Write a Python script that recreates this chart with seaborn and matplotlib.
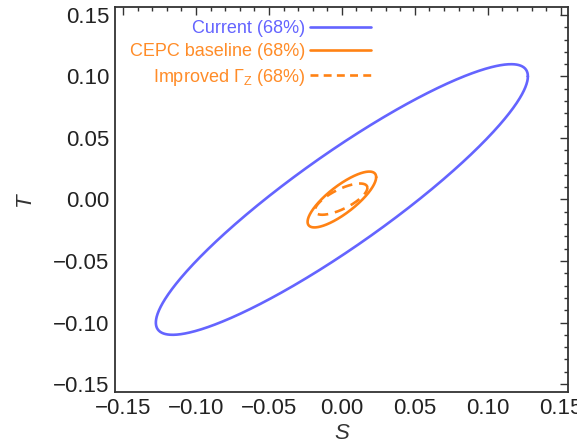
import numpy as np
import pandas as pd
import matplotlib
matplotlib.use("Agg")
import matplotlib.pyplot as plt
from matplotlib.ticker import MultipleLocator, FuncFormatter
import seaborn as sns

# ---- data: 68% CL ellipses in the (S, T) plane ----
labels = ["Current (68%)", "CEPC baseline (68%)", r"Improved $\Gamma_\mathrm{Z}$ (68%)"]
center_S = [0.0, 0.0, -0.0005]
center_T = [0.0, 0.0, 0.0003]
sigma_S = [0.1275, 0.0235, 0.0180]   # half-extent of ellipse along S
sigma_T = [0.1100, 0.0227, 0.0127]   # half-extent of ellipse along T
rho_ST = [0.91, 0.80, 0.72]          # correlation
colors = ["#6464ff", "#ff8214", "#ff8214"]
styles = ["-", "-", "--"]
text_colors = ["#6464ff", "#ff8c28", "#ff8c28"]

x_ticks = [-0.15, -0.10, -0.05, 0.00, 0.05, 0.10, 0.15]
y_ticks = [-0.15, -0.10, -0.05, 0.00, 0.05, 0.10, 0.15]

sns.set_style("white")
plt.rcParams["font.family"] = ["Liberation Sans", "DejaVu Sans"]
plt.rcParams["mathtext.fontset"] = "custom"
plt.rcParams["mathtext.rm"] = "Liberation Sans"
plt.rcParams["mathtext.it"] = "Liberation Sans:italic"

frames = []
t = np.linspace(0, 2 * np.pi, 721)
for i, lab in enumerate(labels):
    r = rho_ST[i]
    S = center_S[i] + sigma_S[i] * np.cos(t)
    T = center_T[i] + sigma_T[i] * (r * np.cos(t) + np.sqrt(1 - r * r) * np.sin(t))
    frames.append(pd.DataFrame({"S": S, "T": T, "set": lab, "order": np.arange(len(t))}))
df = pd.concat(frames, ignore_index=True)

fig = plt.figure(figsize=(5.77, 4.46), dpi=100)
ax = fig.add_axes([115 / 577, 1 - 392 / 446, (568 - 115) / 577, (392 - 7) / 446])

for i, lab in enumerate(labels):
    sub = df[df["set"] == lab]
    sns.lineplot(data=sub, x="S", y="T", sort=False, estimator=None, ax=ax,
                 color=colors[i], linewidth=1.9, linestyle=styles[i], label=lab,
                 dashes=False)
    if styles[i] == "--":
        ax.lines[-1].set_dashes([4.0, 2.6])


def fmt(v, pos):
    s = "%.2f" % v
    if s.startswith("-"):
        s = "\u2212" + s[1:]
    if s == "\u22120.00":
        s = "0.00"
    return s


ax.set_xlim(-0.1555, 0.155)
ax.set_ylim(-0.1565, 0.1565)
ax.set_xticks(x_ticks)
ax.set_yticks(y_ticks)
ax.xaxis.set_major_formatter(FuncFormatter(fmt))
ax.yaxis.set_major_formatter(FuncFormatter(fmt))
ax.xaxis.set_minor_locator(MultipleLocator(0.01))
ax.yaxis.set_minor_locator(MultipleLocator(0.01))
ax.tick_params(which="both", direction="in", top=True, right=True, colors="#333333",
               labelcolor="#222222", labelsize=16, width=1.0)
ax.tick_params(which="major", length=5.5, pad=4)
ax.tick_params(which="minor", length=3)
for sp in ax.spines.values():
    sp.set_color("#333333")
    sp.set_linewidth(1.3)

ax.set_xlabel("S", fontsize=16, style="italic", color="#333333", labelpad=3)
ax.set_ylabel("T", fontsize=16, style="italic", color="#333333", labelpad=13)

leg = ax.legend(loc="upper right", bbox_to_anchor=((371 - 115) / 453, (392 - 20) / 385),
                frameon=False, markerfirst=False, fontsize=13, handlelength=3.4,
                handletextpad=0.25, labelspacing=0.35, borderpad=0, borderaxespad=0)
for txt, c in zip(leg.get_texts(), text_colors):
    txt.set_color(c)
leg.get_lines()[2].set_dashes([3.0, 2.0])

fig.savefig("out.png", dpi=100)
